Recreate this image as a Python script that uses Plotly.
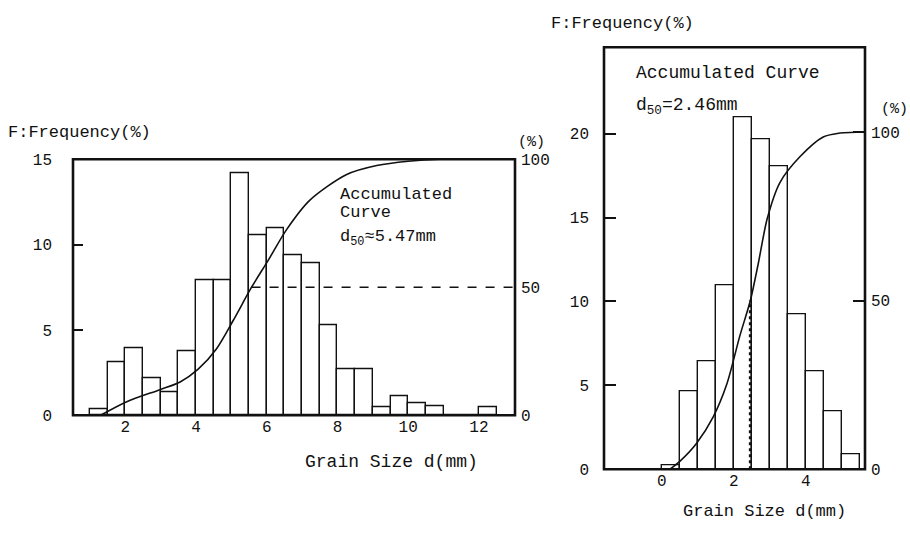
import plotly.graph_objects as go

# ---------------- data ----------------
# Left panel: grain size histogram (0.5 mm bins) and accumulated curve
left_bin_centers = [1.25, 1.75, 2.25, 2.75, 3.25, 3.75, 4.25, 4.75, 5.25, 5.75, 6.25, 6.75,
                    7.25, 7.75, 8.25, 8.75, 9.25, 9.75, 10.25, 10.75, 11.25, 11.75, 12.25]
left_freq = [0.38, 3.1, 3.9, 2.15, 1.35, 3.75, 7.9, 7.9, 14.2, 10.55, 10.95, 9.35,
             8.9, 5.3, 2.7, 2.7, 0.5, 1.1, 0.7, 0.52, 0.0, 0.0, 0.5]
left_cum_x = [1.3, 2.04, 2.98, 3.55, 4.06, 4.58, 5.05, 5.57, 6.04, 6.56, 7.22, 8.26, 9.11, 10.0, 10.9, 13.02]
left_cum_pct = [0, 5.3, 10, 13, 18, 26, 37, 50, 60.5, 72.5, 84, 94, 97.5, 99.2, 100, 100]
left_d50_cross = 5.57

# Right panel
right_bin_centers = [0.25, 0.75, 1.25, 1.75, 2.25, 2.75, 3.25, 3.75, 4.25, 4.75, 5.25]
right_freq = [0.23, 4.62, 6.41, 10.97, 21.0, 19.65, 18.05, 9.22, 5.83, 3.44, 0.87]
right_cum_x = [0.23, 0.51, 0.97, 1.43, 1.80, 2.17, 2.46, 2.68, 2.93, 3.28, 3.84, 4.48, 4.95, 5.64]
right_cum_pct = [0, 2.4, 7.7, 15.5, 25, 39.6, 50, 61, 74.4, 85, 92.7, 98.5, 99.7, 100]
right_d50 = 2.46

BIN_W = 0.5
FONT = "Liberation Mono, Courier New, monospace"
BLACK = "#111111"

fig = go.Figure()

# left panel
fig.add_trace(go.Bar(x=left_bin_centers, y=left_freq, width=BIN_W,
                     marker=dict(color="white", line=dict(color=BLACK, width=1.4)),
                     xaxis="x", yaxis="y", showlegend=False))
fig.add_trace(go.Scatter(x=left_cum_x, y=left_cum_pct, mode="lines",
                         line=dict(color=BLACK, width=1.6, shape="spline", smoothing=0.8),
                         xaxis="x", yaxis="y2", showlegend=False))
fig.add_trace(go.Scatter(x=[left_d50_cross, 13.02], y=[50, 50], mode="lines",
                         line=dict(color=BLACK, width=1.6, dash="dash"),
                         xaxis="x", yaxis="y2", showlegend=False))

# right panel
fig.add_trace(go.Bar(x=right_bin_centers, y=right_freq, width=BIN_W,
                     marker=dict(color="white", line=dict(color=BLACK, width=1.4)),
                     xaxis="x2", yaxis="y3", showlegend=False))
fig.add_trace(go.Scatter(x=[right_d50, right_d50], y=[0, 50], mode="lines",
                         line=dict(color=BLACK, width=3, dash="dot"),
                         xaxis="x2", yaxis="y4", showlegend=False))
fig.add_trace(go.Scatter(x=right_cum_x, y=right_cum_pct, mode="lines",
                         line=dict(color=BLACK, width=1.6, shape="spline", smoothing=0.8),
                         xaxis="x2", yaxis="y4", showlegend=False))

tickfont = dict(family=FONT, size=16, color=BLACK)
common = dict(showgrid=False, zeroline=False, showline=False, tickfont=tickfont)

fig.update_layout(
    width=910, height=534, margin=dict(l=0, r=0, t=0, b=0),
    paper_bgcolor="white", plot_bgcolor="rgba(0,0,0,0)",
    bargap=0,
    xaxis=dict(domain=[73/910, 515/910], range=[0.52, 13.02], anchor="y",
               tickvals=[2, 4, 6, 8, 10, 12], ticks="", **common),
    yaxis=dict(domain=[1-422.5/534, 1-157.5/534], range=[0, 15], anchor="x",
               tickvals=[0, 5, 10, 15], ticks="inside", ticklen=10, tickwidth=2,
               tickcolor=BLACK, ticklabelstandoff=20, **common),
    yaxis2=dict(overlaying="y", side="right", anchor="x", range=[0, 100],
                tickvals=[0, 50, 100], ticks="", ticklabelstandoff=5, **common),
    xaxis2=dict(domain=[604/910, 865/910], range=[-1.6, 5.64], anchor="y3",
                tickvals=[0, 2, 4], ticks="", **common),
    yaxis3=dict(domain=[1-478.3/534, 1-41.7/534], range=[0, 25.15], anchor="x2",
                tickvals=[0, 5, 10, 15, 20], ticks="inside", ticklen=12, tickwidth=2,
                tickcolor=BLACK, ticklabelstandoff=14, **common),
    yaxis4=dict(overlaying="y3", side="right", anchor="x2", range=[0, 125.1],
                tickvals=[0, 50, 100], ticks="inside", ticklen=12, tickwidth=2,
                tickcolor=BLACK, ticklabelstandoff=5, **common),
)

# frames
for xr, yr in [("x domain", "y domain"), ("x2 domain", "y3 domain")]:
    fig.add_shape(type="rect", xref=xr, yref=yr, x0=0, x1=1, y0=0, y1=1,
                  line=dict(color=BLACK, width=2.6), layer="above")

def txt(s, xpx, ypx, size=18, anchor="left"):
    fig.add_annotation(text=s, x=xpx/910, y=1-ypx/534, xref="paper", yref="paper",
                       xanchor=anchor, yanchor="middle", showarrow=False,
                       font=dict(family=FONT, size=size, color=BLACK))

# left texts
txt("F:Frequency(%)", 6, 130, 17)
txt("(%)", 531, 140, 15, "center")
txt("Grain Size d(mm)", 303, 471, 18)
txt("Accumulated", 338, 194, 17)
txt("Curve", 338, 213, 17)
txt("d<sub>50</sub>≈5.47mm", 338, 239, 17)

# right texts
txt("F:Frequency(%)", 549, 17, 17)
txt("(%)", 894, 106, 15, "center")
txt("Grain Size d(mm)", 681, 522, 17)
txt("Accumulated Curve", 634, 68)
txt("d<sub>50</sub>=2.46mm", 634, 103)

fig.write_html("out.html")
